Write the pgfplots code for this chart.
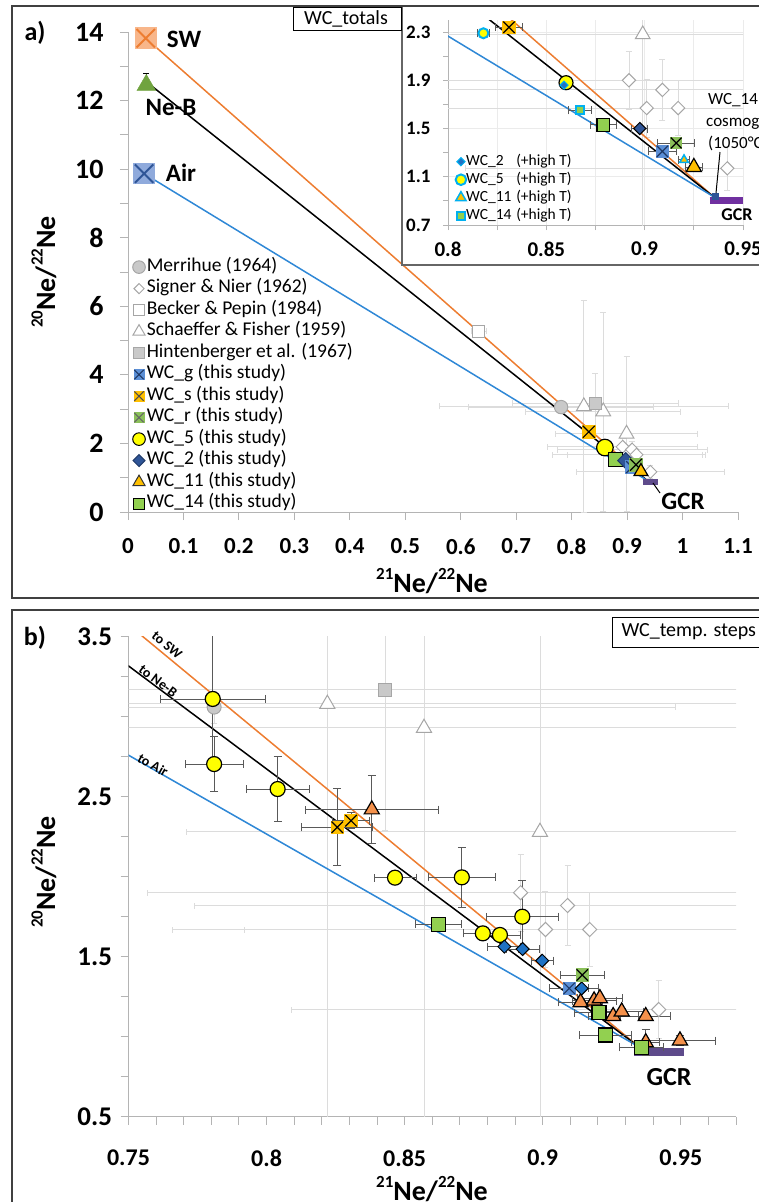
\documentclass[border=0pt]{standalone}
\usepackage{pgfplots}
\usepackage{pgfplotstable}
\pgfplotsset{compat=1.18}
\usepackage{fontspec}
\setmainfont{Carlito}

\newcommand\fs[1]{\fontsize{#1}{#1}\selectfont}
\newcommand\sups[1]{\raisebox{0.45em}{\fontsize{17}{17}\selectfont #1}}

\definecolor{cOrg}{HTML}{ED7D31}
\definecolor{cBlu}{HTML}{2F88D6}
\definecolor{cAmber}{HTML}{FFC000}
\definecolor{cOrgTri}{HTML}{F4914B}
\definecolor{cGreen}{HTML}{92D050}
\definecolor{cGreenX}{HTML}{8BC05A}
\definecolor{cBlueX}{HTML}{5B8FD6}
\definecolor{cNavyX}{HTML}{1F3864}
\definecolor{cNavy}{HTML}{2F5597}
\definecolor{cDiamB}{HTML}{1F72C4}
\definecolor{cYellow}{HTML}{FFFF00}
\definecolor{cPurA}{HTML}{5E4B8B}
\definecolor{cPurI}{HTML}{7030A0}
\definecolor{cCyan}{HTML}{00B0F0}
\definecolor{cRefEdge}{HTML}{A6A6A6}
\definecolor{cRefFill}{HTML}{C9C9C9}
\definecolor{cRefBar}{HTML}{DCDCDC}
\definecolor{cErr}{HTML}{595959}
\definecolor{cSWfill}{HTML}{F8B68A}
\definecolor{cAirfill}{HTML}{8FAADC}
\definecolor{cNeB}{HTML}{70A33F}
\definecolor{cAxis}{HTML}{B4B4B4}
\definecolor{cGrid}{HTML}{EBEBEB}
\definecolor{cFrame}{HTML}{404040}

% square marker with a diagonal cross
\pgfdeclareplotmark{sqx}{%
  \pgfpathrectangle{\pgfqpoint{-\pgfplotmarksize}{-\pgfplotmarksize}}{\pgfqpoint{2\pgfplotmarksize}{2\pgfplotmarksize}}%
  \pgfusepathqfill
  \pgfpathmoveto{\pgfqpoint{-0.85\pgfplotmarksize}{-0.85\pgfplotmarksize}}%
  \pgfpathlineto{\pgfqpoint{0.85\pgfplotmarksize}{0.85\pgfplotmarksize}}%
  \pgfpathmoveto{\pgfqpoint{-0.85\pgfplotmarksize}{0.85\pgfplotmarksize}}%
  \pgfpathlineto{\pgfqpoint{0.85\pgfplotmarksize}{-0.85\pgfplotmarksize}}%
  \pgfusepathqstroke
}

\pgfplotsset{
  excel/.style={scale only axis, axis lines=left,
    axis line style={cAxis, line width=1pt, -},
    tick style={cAxis, line width=1pt},
    tick align=outside, major tick length=8pt, minor tick length=8pt,
    /pgf/number format/assume math mode=true,
    tick label style={text=black}},
  refpt/.style={only marks, forget plot,
    error bars/x dir=both, error bars/x explicit,
    error bars/y dir=both, error bars/y explicit,
    error bars/error bar style={cRefBar, line width=0.9pt},
    error bars/error mark options={rotate=90, cRefBar, mark size=3pt, line width=0.9pt}},
  study/.style={only marks, forget plot,
    error bars/x dir=both, error bars/x explicit,
    error bars/y dir=both, error bars/y explicit,
    error bars/error bar style={cErr, line width=0.9pt},
    error bars/error mark options={rotate=90, cErr, mark size=4pt, line width=0.9pt}},
  table/tbl/.style={x=x, y=y, x error=ex, y error=ey},
}

% ---------------- reference data: x y ex ey ----------------
\pgfplotstableread{
x y ex ey
0.781 3.06 0.167 0.10
}\merrihue
\pgfplotstableread{
x y ex ey
0.892 1.90 0.135 0.24
0.901 1.67 0.135 0.24
0.909 1.82 0.135 0.25
0.917 1.67 0.125 0.23
0.942 1.17 0.133 0.18
}\signer
\pgfplotstableread{
x y ex ey
0.632 5.27 0.0135 0.15
}\becker
\pgfplotstableread{
x y ex ey
0.822 3.08 0.26 3.10
0.857 2.93 0.14 2.90
0.899 2.28 0.128 2.26
}\schaeffer
\pgfplotstableread{
x y ex ey
0.843 3.17 0.15 0.88
}\hinten

% ---------------- WC totals ----------------
\pgfplotstableread{
x y ex ey
0.909 1.31 0.0072 0
}\totG
\pgfplotstableread{
x y ex ey
0.831 2.34 0.0068 0
}\totS
\pgfplotstableread{
x y ex ey
0.916 1.38 0.0093 0
}\totR
\pgfplotstableread{
x y ex ey
0.860 1.88 0.003 0
}\totFive
\pgfplotstableread{
x y ex ey
0.8975 1.50 0.004 0
}\totTwo
\pgfplotstableread{
x y ex ey
0.925 1.18 0.0045 0
}\totEleven
\pgfplotstableread{
x y ex ey
0.879 1.53 0.0066 0
}\totFourteen

% ---------------- totals including high-T steps ----------------
\pgfplotstableread{
x y ex ey
0.818 2.29 0.003 0
}\hiFive
\pgfplotstableread{
x y ex ey
0.920 1.24 0.003 0
}\hiEleven
\pgfplotstableread{
x y ex ey
0.867 1.65 0.006 0
}\hiFourteen

% ---------------- WC temperature steps ----------------
\pgfplotstableread{
x y ex ey
0.7805 3.111 0.019 0.40
0.7810 2.704 0.0105 0.17
0.8040 2.548 0.0114 0.205
0.8465 1.994 0.0076 0.03
0.8707 1.996 0.012 0.19
0.8783 1.646 0.007 0
0.8845 1.636 0.0075 0
0.8926 1.750 0.013 0.225
}\stepFive
\pgfplotstableread{
x y ex ey
0.8256 2.309 0.0129 0.24
0.8306 2.350 0.0066 0.05
}\stepS
\pgfplotstableread{
x y ex ey
0.8381 2.420 0.024 0.215
0.9137 1.215 0.008 0.02
0.9186 1.226 0.008 0.02
0.9207 1.240 0.008 0.02
0.9255 1.128 0.009 0.02
0.9286 1.157 0.008 0.02
0.9373 1.128 0.009 0.02
0.9373 0.965 0.005 0.08
0.9497 0.976 0.013 0.03
}\stepEleven
\pgfplotstableread{
x y ex ey
0.8622 1.703 0.0082 0
0.9204 1.150 0.009 0
0.9228 1.011 0.0095 0
0.9358 0.934 0.008 0
}\stepFourteen
\pgfplotstableread{
x y ex ey
0.8861 1.563 0.006 0
0.8927 1.548 0.006 0
0.8998 1.475 0.004 0
0.9141 1.302 0.006 0
}\stepTwo
\pgfplotstableread{
x y ex ey
0.9096 1.302 0.007 0
}\stepG
\pgfplotstableread{
x y ex ey
0.9143 1.386 0.008 0
}\stepR

\begin{document}
\begin{tikzpicture}[x=1pt,y=1pt]

% ======================= panel a =======================
\begin{axis}[excel, at={(128pt,-512pt)}, anchor=south west,
  width=610pt, height=480pt,
  xmin=0, xmax=1.1, ymin=0, ymax=14,
  xtick={0,0.1,0.2,0.3,0.4,0.5,0.6,0.7,0.8,0.9,1,1.1},
  ytick={0,2,4,6,8,10,12,14}, minor ytick={1,3,5,7,9,11,13},
  yticklabel style={font=\bfseries\fs{28}, xshift=-13pt},
  xticklabel style={font=\bfseries\fs{23}, yshift=-15pt},
  legend cell align=left,
  legend style={at={(0.0025,0.533)}, anchor=north west, draw=none, fill=none,
    font=\fs{19.5}, row sep=4pt, column sep=1.5pt,
    nodes={inner sep=0pt, text height=13pt, text depth=4.5pt}},
]
\addplot[refpt, mark=square*, mark size=6pt, mark options={draw=cRefEdge, fill=white, line width=1pt}] table[tbl]{\becker};
\addplot[refpt, mark=*, mark size=6.7pt, mark options={draw=cRefEdge, fill=cRefFill, line width=1pt}] table[tbl]{\merrihue};
\addplot[refpt, mark=triangle*, mark size=8.5pt, mark options={draw=cRefEdge, fill=white, line width=1pt}] table[tbl]{\schaeffer};
\addplot[refpt, mark=square*, mark size=6pt, mark options={draw=cRefEdge, fill=cRefFill, line width=1pt}] table[tbl]{\hinten};
\addplot[refpt, mark=square*, mark size=4.6pt, mark options={rotate=45, draw=cRefEdge, fill=white, line width=1pt}] table[tbl]{\signer};

% mixing lines towards GCR
\addplot[cOrg, line width=1.5pt, forget plot] coordinates {(0.032,13.82) (0.935,0.935)};
\addplot[black, line width=1.5pt, forget plot] coordinates {(0.033,12.55) (0.935,0.935)};
\addplot[cBlu, line width=1.5pt, forget plot] coordinates {(0.029,9.87) (0.935,0.935)};
\addplot[cPurA, line width=6pt, forget plot] coordinates {(0.928,0.88) (0.955,0.88)};

% end members
\addplot[only marks, forget plot, mark=sqx, mark size=10.8pt, mark options={fill=cSWfill, draw=cOrg, line width=2pt}] coordinates {(0.032,13.82)};
\addplot[only marks, forget plot, mark=triangle*, mark size=10.8pt, mark options={fill=cNeB, draw=cNeB},
  error bars/y dir=plus, error bars/y explicit, error bars/error bar style={black, line width=0.8pt},
  error bars/error mark options={rotate=90, black, mark size=3pt, line width=0.8pt}] coordinates {(0.033,12.45) +- (0,0.33)};
\addplot[only marks, forget plot, mark=sqx, mark size=10.8pt, mark options={fill=cAirfill, draw=cNavy, line width=2pt}] coordinates {(0.029,9.87)};

% totals
\addplot[study, mark=sqx, mark size=7pt, mark options={fill=cAmber, draw=black, line width=1.2pt}] table[tbl]{\totS};
\addplot[study, mark=*, mark size=8.3pt, mark options={fill=cYellow, draw=black, line width=1.2pt}] table[tbl]{\totFive};
\addplot[study, mark=square*, mark size=7pt, mark options={fill=cGreen, draw=black, line width=1.2pt}] table[tbl]{\totFourteen};
\addplot[study, mark=square*, mark size=5.7pt, mark options={rotate=45, fill=cNavy, draw=cNavy!70!black, line width=1pt}] table[tbl]{\totTwo};
\addplot[study, mark=sqx, mark size=7pt, mark options={fill=cBlueX, draw=cNavyX, line width=1.2pt}] table[tbl]{\totG};
\addplot[study, mark=sqx, mark size=7pt, mark options={fill=cGreenX, draw=black, line width=1.2pt}] table[tbl]{\totR};
\addplot[study, mark=triangle*, mark size=8pt, mark options={fill=cAmber, draw=black, line width=1.2pt}] table[tbl]{\totEleven};

\addlegendimage{only marks, mark=*, mark size=6.3pt, mark options={draw=cRefEdge, fill=cRefFill, line width=1pt}}
\addlegendentry{Merrihue (1964)}
\addlegendimage{only marks, mark=square*, mark size=3.6pt, mark options={rotate=45, draw=cRefEdge, fill=white, line width=1pt}}
\addlegendentry{Signer \& Nier (1962)}
\addlegendimage{only marks, mark=square*, mark size=5.5pt, mark options={draw=cRefEdge, fill=white, line width=1pt}}
\addlegendentry{Becker \& Pepin (1984)}
\addlegendimage{only marks, mark=triangle*, mark size=7pt, mark options={draw=cRefEdge, fill=white, line width=1pt}}
\addlegendentry{Schaeffer \& Fisher (1959)}
\addlegendimage{only marks, mark=square*, mark size=5.5pt, mark options={draw=cRefEdge, fill=cRefFill, line width=1pt}}
\addlegendentry{Hintenberger et al. (1967)}
\addlegendimage{only marks, mark=sqx, mark size=5.5pt, mark options={fill=cBlueX, draw=cNavyX, line width=1pt}}
\addlegendentry{WC\_g (this study)}
\addlegendimage{only marks, mark=sqx, mark size=5.5pt, mark options={fill=cAmber, draw=black!70, line width=1pt}}
\addlegendentry{WC\_s (this study)}
\addlegendimage{only marks, mark=sqx, mark size=5.5pt, mark options={fill=cGreenX, draw=black!60, line width=1pt}}
\addlegendentry{WC\_r (this study)}
\addlegendimage{only marks, mark=*, mark size=6.3pt, mark options={fill=cYellow, draw=black, line width=1pt}}
\addlegendentry{WC\_5 (this study)}
\addlegendimage{only marks, mark=square*, mark size=4.2pt, mark options={rotate=45, fill=cNavy, draw=cNavy!70!black, line width=1pt}}
\addlegendentry{WC\_2 (this study)}
\addlegendimage{only marks, mark=triangle*, mark size=7pt, mark options={fill=cAmber, draw=black!80, line width=1pt}}
\addlegendentry{WC\_11 (this study)}
\addlegendimage{only marks, mark=square*, mark size=5.5pt, mark options={fill=cGreen, draw=black, line width=1pt}}
\addlegendentry{WC\_14 (this study)}
\end{axis}

\node[font=\bfseries\fs{26}] at (35,-33) {a)};
\node[font=\bfseries\fs{25}] at (184,-39.5) {SW};
\node[font=\bfseries\fs{25}] at (171,-107) {Ne-B};
\node[font=\bfseries\fs{25}] at (181,-172.5) {Air};
\node[font=\bfseries\fs{25}] at (683,-501) {GCR};
\draw[black, line width=1pt] (653,-483) -- (660,-493);
\node[rotate=90, font=\bfseries\fs{28}] at (44,-272) {\sups{20}Ne/\sups{22}Ne};
\node[font=\bfseries\fs{28}] at (432,-581) {\sups{21}Ne/\sups{22}Ne};

% ======================= inset (totals, zoom) =======================
\filldraw[fill=white, draw=gray!80!black, line width=1.5pt] (402,-6) rectangle (800,-265);
\begin{axis}[excel, at={(448pt,-225pt)}, anchor=south west,
  width=295pt, height=205pt,
  xmin=0.8, xmax=0.95, ymin=0.7, ymax=2.4,
  xtick={0.8,0.85,0.9,0.95}, minor xtick={0.825,0.875,0.925},
  ytick={0.7,1.1,1.5,1.9,2.3}, minor ytick={0.9,1.3,1.7,2.1},
  major tick length=5pt, minor tick length=5pt,
  xmajorgrids, ymajorgrids, xminorgrids,
  major grid style={cGrid, line width=0.8pt}, minor grid style={cGrid, line width=0.8pt},
  yticklabel style={font=\bfseries\fs{19}, xshift=-9pt},
  xticklabel style={font=\bfseries\fs{21}, yshift=-8pt},
  legend cell align=left,
  legend style={at={(0.015,0.356)}, anchor=north west, draw=none, fill=none,
    font=\fs{15.5}, row sep=3pt, column sep=0pt,
    nodes={inner sep=0pt, text height=11pt, text depth=4pt}},
]
\addplot[refpt, restrict y to domain=0.7:2.4, mark=triangle*, mark size=8.5pt, mark options={draw=cRefEdge, fill=white, line width=1pt}] table[tbl]{\schaeffer};
\addplot[refpt, mark=square*, mark size=4.7pt, mark options={rotate=45, draw=cRefEdge, fill=white, line width=1pt}] table[tbl]{\signer};

\addplot[cOrg, line width=1.5pt, forget plot] coordinates {(0.032,13.82) (0.935,0.935)};
\addplot[black, line width=1.5pt, forget plot] coordinates {(0.033,12.55) (0.935,0.935)};
\addplot[cBlu, line width=1.5pt, forget plot] coordinates {(0.029,9.87) (0.935,0.935)};
\addplot[cPurI, line width=7pt, forget plot] coordinates {(0.933,0.905) (0.950,0.905)};

\addplot[study, mark=*, mark size=5pt, mark options={fill=cYellow, draw=cCyan, line width=2pt}] table[tbl]{\hiFive};
\addplot[study, mark=square*, mark size=4pt, mark options={fill=cGreen, draw=cCyan, line width=2pt}] table[tbl]{\hiFourteen};
\addplot[study, mark=sqx, mark size=6.7pt, mark options={fill=cAmber, draw=black, line width=1.2pt}] table[tbl]{\totS};
\addplot[study, mark=*, mark size=7pt, mark options={fill=cYellow, draw=black, line width=1.2pt}] table[tbl]{\totFive};
\addplot[only marks, forget plot, mark=square*, mark size=2.9pt, mark options={rotate=45, fill=cDiamB, draw=cCyan, line width=1pt}] coordinates {(0.859,1.86)};
\addplot[study, mark=square*, mark size=6.3pt, mark options={fill=cGreen, draw=black, line width=1.2pt}] table[tbl]{\totFourteen};
\addplot[study, mark=square*, mark size=4.3pt, mark options={rotate=45, fill=cNavy, draw=black, line width=1pt}] table[tbl]{\totTwo};
\addplot[study, mark=sqx, mark size=6.7pt, mark options={fill=cBlueX, draw=cNavyX, line width=1.2pt}] table[tbl]{\totG};
\addplot[study, mark=sqx, mark size=6.3pt, mark options={fill=cGreenX, draw=black, line width=1.2pt}] table[tbl]{\totR};
\addplot[study, mark=triangle*, mark size=5pt, mark options={fill=cAmber, draw=cCyan, line width=1.5pt}] table[tbl]{\hiEleven};
\addplot[study, mark=triangle*, mark size=8.7pt, mark options={fill=cAmber, draw=black, line width=1.2pt}] table[tbl]{\totEleven};
\addplot[only marks, forget plot, mark=square*, mark size=3pt, mark options={fill=cNavy, draw=cNavy}] coordinates {(0.936,0.935)};

\addlegendimage{only marks, mark=square*, mark size=2.9pt, mark options={rotate=45, fill=cDiamB, draw=cCyan, line width=1pt}}
\addlegendentry{\makebox[50pt][l]{WC\_2}(+high T)}
\addlegendimage{only marks, mark=*, mark size=5.3pt, mark options={fill=cYellow, draw=cCyan, line width=2pt}}
\addlegendentry{\makebox[50pt][l]{WC\_5}(+high T)}
\addlegendimage{only marks, mark=triangle*, mark size=6pt, mark options={fill=cAmber, draw=cCyan, line width=1.5pt}}
\addlegendentry{\makebox[50pt][l]{WC\_11}(+high T)}
\addlegendimage{only marks, mark=square*, mark size=4pt, mark options={fill=cGreen, draw=cCyan, line width=2pt}}
\addlegendentry{\makebox[50pt][l]{WC\_14}(+high T)}
\end{axis}

\draw[black, line width=1pt] (720,-152) -- (716,-193);
\node[anchor=west, font=\fs{17}, inner sep=0pt] at (708,-100) {WC\_14};
\node[anchor=west, font=\fs{17}, inner sep=0pt] at (706,-122) {cosmogenic};
\node[anchor=west, font=\fs{17}, inner sep=0pt] at (708,-143) {(1050°C)};
\node[font=\bfseries\fs{18}] at (737,-215) {GCR};
\draw[black, line width=1pt, fill=white] (293,-7) rectangle (401,-30);
\node[font=\fs{20}] at (346,-18.5) {WC\_totals};

% frame of panel a
\draw[cFrame, line width=2pt] (12,-6) rectangle (800,-598);

% ======================= panel b =======================
\begin{axis}[excel, at={(128.5pt,-1116.7pt)}, anchor=south west,
  width=607.5pt, height=480pt,
  xmin=0.75, xmax=0.97, ymin=0.5, ymax=3.5,
  xtick={0.75,0.8,0.85,0.9,0.95},
  minor xtick={0.76,0.77,0.78,0.79,0.81,0.82,0.83,0.84,0.86,0.87,0.88,0.89,0.91,0.92,0.93,0.94,0.96,0.97},
  ytick={0.5,1.5,2.5,3.5},
  minor ytick={0.75,1,1.25,1.75,2,2.25,2.75,3,3.25},
  yticklabel style={font=\bfseries\fs{27}, xshift=-5pt},
  xticklabel style={font=\bfseries\fs{24}, yshift=-22pt},
]
\addplot[refpt, mark=*, mark size=7pt, mark options={draw=cRefEdge, fill=cRefFill, line width=1pt}] table[tbl]{\merrihue};
\addplot[refpt, mark=triangle*, mark size=8.7pt, mark options={draw=cRefEdge, fill=white, line width=1pt}] table[tbl]{\schaeffer};
\addplot[refpt, mark=square*, mark size=6.5pt, mark options={draw=cRefEdge, fill=cRefFill, line width=1pt}] table[tbl]{\hinten};
\addplot[refpt, mark=square*, mark size=5pt, mark options={rotate=45, draw=cRefEdge, fill=white, line width=1pt}] table[tbl]{\signer};

\addplot[cOrg, line width=1.5pt, forget plot] coordinates {(0.032,13.82) (0.935,0.935)};
\addplot[black, line width=1.5pt, forget plot] coordinates {(0.033,12.55) (0.935,0.935)};
\addplot[cBlu, line width=1.5pt, forget plot] coordinates {(0.029,9.87) (0.935,0.935)};
\addplot[cPurA, line width=8pt, forget plot] coordinates {(0.933,0.905) (0.951,0.905)};

\addplot[study, mark=*, mark size=7.5pt, mark options={fill=cYellow, draw=black, line width=1.2pt}] table[tbl]{\stepFive};
\addplot[study, mark=sqx, mark size=6.7pt, mark options={fill=cAmber, draw=black, line width=1.2pt}] table[tbl]{\stepS};
\addplot[study, mark=triangle*, mark size=8.7pt, mark options={fill=cOrgTri, draw=black, line width=1.2pt}] table[tbl]{\stepEleven};
\addplot[study, mark=square*, mark size=7pt, mark options={fill=cGreen, draw=black, line width=1.2pt}] table[tbl]{\stepFourteen};
\addplot[study, mark=sqx, mark size=6.7pt, mark options={fill=cBlueX, draw=cNavyX, line width=1.2pt}] table[tbl]{\stepG};
\addplot[study, mark=square*, mark size=4.6pt, mark options={rotate=45, fill=cDiamB, draw=black, line width=1pt}] table[tbl]{\stepTwo};
\addplot[study, mark=sqx, mark size=6.7pt, mark options={fill=cGreenX, draw=black, line width=1.2pt}] table[tbl]{\stepR};
\end{axis}

\node[font=\bfseries\fs{26}] at (35,-638) {b)};
\node[rotate=-39.6, font=\bfseries\fs{14}] at (167,-645) {to SW};
\node[rotate=-36.8, font=\bfseries\fs{14}] at (158,-681) {to Ne-B};
\node[rotate=-29.7, font=\bfseries\fs{14}] at (153,-765) {to Air};
\node[font=\bfseries\fs{26}] at (669,-1077.5) {GCR};
\node[rotate=90, font=\bfseries\fs{28}] at (44,-872) {\sups{20}Ne/\sups{22}Ne};
\node[font=\bfseries\fs{28}] at (432,-1189) {\sups{21}Ne/\sups{22}Ne};
\draw[black, line width=1pt, fill=white] (612,-617) rectangle (800,-647);
\node[anchor=west, font=\fs{20}] at (618,-632) {WC\_temp. steps};

% frame of panel b
\draw[cFrame, line width=2pt] (12,-610) rectangle (800,-1230);

\pgfresetboundingbox
\path (0,0) rectangle (758,-1202);
\end{tikzpicture}
\end{document}
